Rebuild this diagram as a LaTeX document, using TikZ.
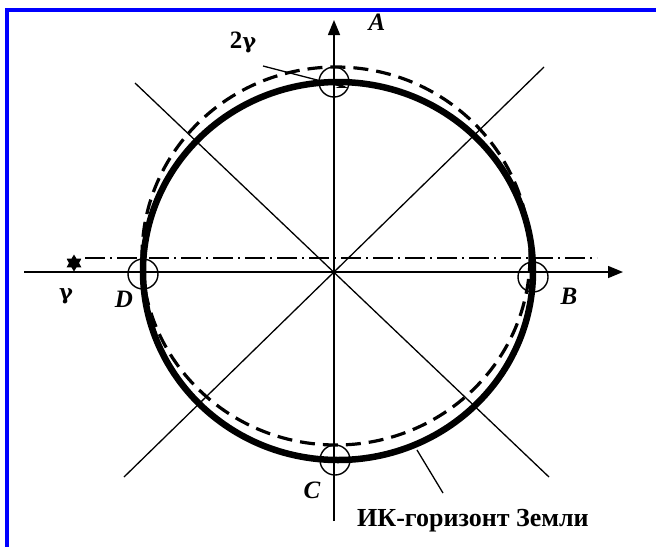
\documentclass[tikz,border=0pt]{standalone}
\usepackage{fontspec}
\setmainfont{Liberation Serif}
\newfontfamily\gammafont{DejaVu Serif}
\usetikzlibrary{arrows.meta,shapes.geometric}
\begin{document}
\begin{tikzpicture}[x=1pt,y=-1pt,
  thinline/.style={line width=1.3pt,black},
  axisline/.style={line width=1.5pt,black,-{Triangle[length=15pt,width=12pt]}},
  mark circle/.style={circle,draw,line width=1.4pt,minimum size=30pt,inner sep=0pt},
  ptlabel/.style={font=\fontsize{25}{25}\selectfont\bfseries\itshape,inner sep=0pt},
  gamma label/.style={font=\fontsize{25}{25}\selectfont\bfseries,inner sep=0pt},
  bold label/.style={font=\fontsize{26}{26}\selectfont\bfseries,inner sep=0pt}]
\useasboundingbox (0,0) rectangle (656,547);
% blue frame (top and left)
\draw[blue,line width=4pt,line join=miter] (656,9.5) -- (7,9.5) -- (7,547);
% center
\coordinate (O) at (334,272);
% diagonals
\coordinate (d1a) at (135,83);
\coordinate (d1b) at (549,477);
\coordinate (d2a) at (544,67);
\coordinate (d2b) at (124,477);
\draw[thinline] (d1a) -- (d1b);
\draw[thinline] (d2a) -- (d2b);
% axes
\coordinate (xs) at (24,272);
\coordinate (xe) at (623,272);
\coordinate (ys) at (334,521);
\coordinate (ye) at (334,20);
\draw[axisline] (xs) -- (xe);
\draw[axisline] (ys) -- (ye);
% dash-dot line
\coordinate (dda) at (85,258);
\coordinate (ddb) at (597,258);
\draw[line width=1.2pt,dash pattern=on 20pt off 5pt on 2pt off 5pt] (dda) -- (ddb);
% dashed shifted horizon
\draw[line width=3.2pt,dash pattern=on 15pt off 8pt] (336,256) ellipse [x radius=194,y radius=189];
% thick horizon
\draw[line width=6.5pt] (338,271) ellipse [x radius=195,y radius=189];
% marker circles
\node[mark circle] (cA) at (334,82) {};
\node[mark circle] (cD) at (143,274) {};
\node[mark circle] (cB) at (533,277) {};
\node[mark circle] (cC) at (335,460) {};
% star
\node[star,star points=6,star point ratio=1.7,fill=black,minimum size=17pt,inner sep=0pt] (star) at (74,263) {};
% labels
\node[ptlabel] (lA) at (377,22) {A};
\node[ptlabel] (lB) at (569,296) {B};
\node[ptlabel] (lC) at (312,490) {C};
\node[ptlabel] (lD) at (124,299) {D};
\node[gamma label] (l2g) at (243,42) {2{\gammafont\fontsize{21}{21}\selectfont\bfseries γ}};
\node[gamma label] (lg) at (66,296) {{\gammafont\fontsize{21}{21}\selectfont\bfseries γ}};
\node[bold label,anchor=west] (lh) at (357,521) {ИК-горизонт Земли};
% leader
\coordinate (hp) at (417,450);
\coordinate (hq) at (443,493);
\draw[thinline] (hp) -- (hq);
% 2gamma arrow
\coordinate (ga) at (263,66);
\coordinate (gb) at (348,88);
\draw[thinline,-{Stealth[length=12pt,width=6pt]}] (ga) -- (gb);
\end{tikzpicture}
\end{document}
